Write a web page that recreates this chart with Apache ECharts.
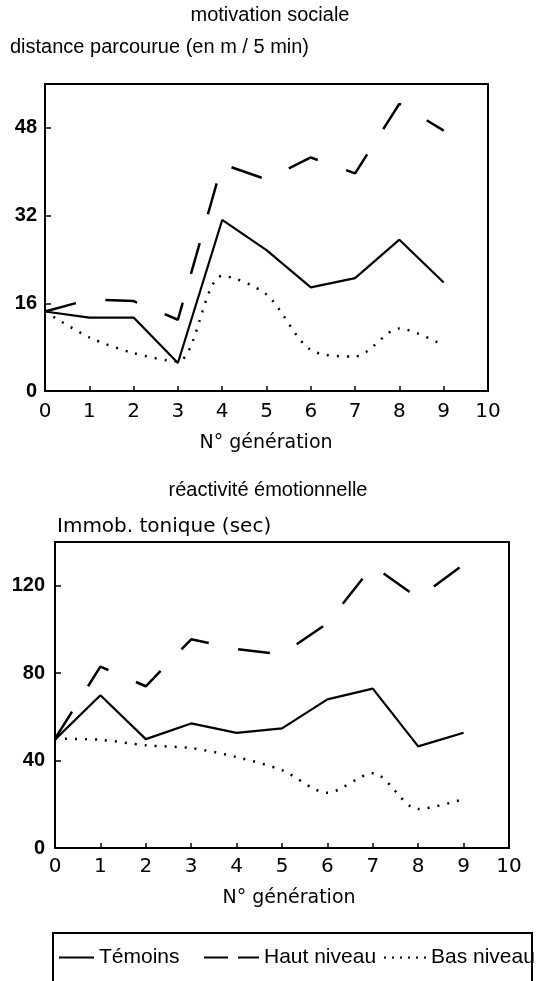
<!DOCTYPE html>
<html>
<head>
<meta charset="utf-8">
<script src="https://cdn.jsdelivr.net/npm/echarts@6/dist/echarts.min.js"></script>
<style>
html,body{margin:0;padding:0;background:#fff;}
#c{width:538px;height:981px;}
</style>
</head>
<body>
<div id="c"></div>
<script>
// ---- data ----
var generations = [0, 1, 2, 3, 4, 5, 6, 7, 8, 9];
var seriesNames = ['Témoins', 'Haut niveau', 'Bas niveau'];

// motivation sociale : distance parcourue (en m / 5 min)
var motivTemoins = [14.5, 13.4, 13.4, 5.1, 31.2, 25.7, 18.9, 20.6, 27.6, 19.8];
var motivHaut    = [14.5, 16.7, 16.4, 13.0, 41.4, 38.6, 42.6, 39.7, 52.4, 47.5];
var motivBas     = [14.5, 9.8, 6.9, 5.4, 21.0, 17.6, 7.5, 6.3, 11.4, 8.3];

// réactivité émotionnelle : immobilité tonique (sec)
var reactTemoins = [49.6, 69.9, 49.8, 57.0, 52.7, 54.7, 68.0, 72.9, 46.5, 52.7];
var reactHaut    = [50, 83, 74, 95.5, 91, 88.6, 102.8, 129.2, 114.3, 129.7];
var reactBas     = [50, 49.5, 47, 45.7, 41.6, 35.6, 25.3, 34.2, 17.8, 22.4];

var titleTop = 'motivation sociale';
var yNameTop = 'distance parcourue (en m / 5 min)';
var titleBottom = 'réactivité émotionnelle';
var yNameBottom = 'Immob. tonique (sec)';
var xName = 'N° génération';

// ---- chart ----
var HELV = '"Liberation Sans", Arial, sans-serif';
var ROUND = '"DejaVu Sans", sans-serif';

function pairs(vals) {
  return generations.map(function (g, i) { return [g, vals[i]]; });
}

var styles = [
  { type: 'solid', width: 2.2 },
  { type: [32, 30], width: 2.5 },
  { type: [2, 8], width: 2.5 }
];

function mkSeries(idx, vals, si) {
  return {
    name: seriesNames[si],
    type: 'line',
    xAxisIndex: idx,
    yAxisIndex: idx,
    data: pairs(vals),
    symbol: 'none',
    smooth: si === 2 ? 0.3 : false,
    animation: false,
    lineStyle: { color: '#000', width: styles[si].width, type: styles[si].type },
    itemStyle: { color: '#000' }
  };
}

function xAxis(gridIndex, margin) {
  return {
    type: 'value', gridIndex: gridIndex, min: 0, max: 10, interval: 1,
    axisLine: { show: true, lineStyle: { color: '#000', width: 2 } },
    axisTick: { show: true, inside: true, length: 5, lineStyle: { color: '#000', width: 1.5 } },
    axisLabel: { color: '#000', fontSize: 20, fontFamily: ROUND, margin: margin },
    splitLine: { show: false }
  };
}

function yAxis(gridIndex, max, interval, margin) {
  return {
    type: 'value', gridIndex: gridIndex, min: 0, max: max, interval: interval,
    axisLine: { show: true, lineStyle: { color: '#000', width: 2 } },
    axisTick: { show: true, inside: true, length: 6, lineStyle: { color: '#000', width: 1.5 } },
    axisLabel: { color: '#000', fontSize: 20, fontWeight: 'bold', fontFamily: HELV, margin: margin, showMaxLabel: false },
    splitLine: { show: false }
  };
}

function txt(x, y, s, font, size, align) {
  return {
    type: 'text', x: x, y: y, silent: true,
    style: { text: s, fill: '#000', font: size + 'px ' + font, textAlign: align || 'center', textVerticalAlign: 'middle' }
  };
}

function legendItem(name, left, width, lineType) {
  var l = {
    data: [name], left: left, top: 947, orient: 'horizontal',
    itemWidth: width, itemHeight: 20, padding: 0,
    selectedMode: false,
    itemStyle: { opacity: 0 },
    textStyle: { color: '#000', fontSize: 21, fontFamily: HELV }
  };
  if (lineType) l.lineStyle = { type: lineType };
  return l;
}

var option = {
  backgroundColor: '#fff',
  animation: false,
  grid: [
    { left: 45, top: 84, width: 443, height: 307, show: true, borderColor: '#000', borderWidth: 2, containLabel: false },
    { left: 55, top: 542, width: 454, height: 306, show: true, borderColor: '#000', borderWidth: 2, containLabel: false }
  ],
  xAxis: [xAxis(0, 11), xAxis(1, 9)],
  yAxis: [yAxis(0, 56, 16, 8), yAxis(1, 140, 40, 10)],
  legend: [
    legendItem(seriesNames[0], 58, 35, null),
    legendItem(seriesNames[1], 203, 55, [24, 10]),
    legendItem(seriesNames[2], 383, 42, [2, 6])
  ],
  series: [
    mkSeries(0, motivTemoins, 0),
    mkSeries(0, motivHaut, 1),
    mkSeries(0, motivBas, 2),
    mkSeries(1, reactTemoins, 0),
    mkSeries(1, reactHaut, 1),
    mkSeries(1, reactBas, 2)
  ],
  graphic: [
    txt(270, 15, titleTop, HELV, 20),
    txt(10, 47, yNameTop, HELV, 20, 'left'),
    txt(266, 443, xName, ROUND, 19),
    txt(268, 490, titleBottom, HELV, 20),
    txt(57, 527, yNameBottom, ROUND, 20, 'left'),
    txt(289, 898, xName, ROUND, 19),
    {
      type: 'rect', silent: true,
      shape: { x: 53, y: 933, width: 479, height: 70 },
      style: { fill: 'none', stroke: '#000', lineWidth: 2 }
    }
  ]
};

var chart = echarts.init(document.getElementById('c'), null, { renderer: 'canvas' });
chart.setOption(option);
</script>
</body>
</html>
